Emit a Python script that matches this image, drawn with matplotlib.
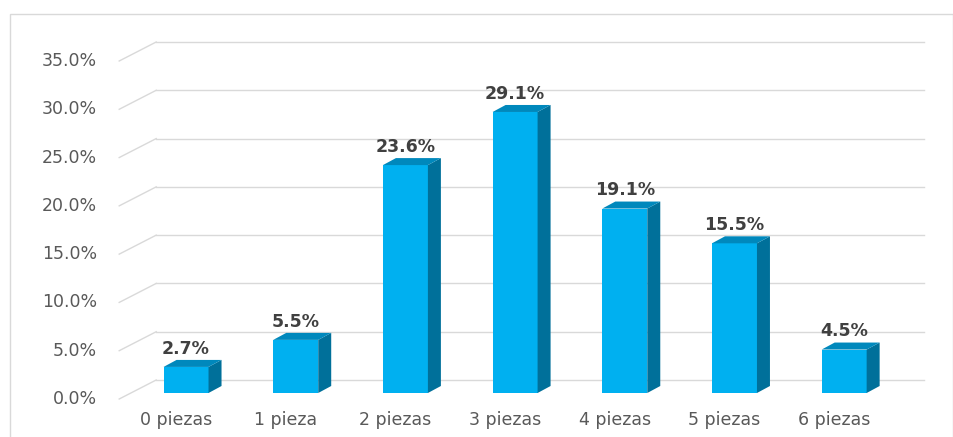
import matplotlib.pyplot as plt
import matplotlib.transforms as mtransforms
from matplotlib.patches import Polygon, Rectangle

categories = ["0 piezas", "1 pieza", "2 piezas", "3 piezas", "4 piezas", "5 piezas", "6 piezas"]
values = [2.7, 5.5, 23.6, 29.1, 19.1, 15.5, 4.5]
ticks = [0, 5, 10, 15, 20, 25, 30, 35]

FRONT = "#00B0F0"
SIDE = "#00709A"
TOP = "#0088BC"
GRID = "#D9D9D9"
TXT = "#595959"

fig = plt.figure(figsize=(9.54, 4.37), dpi=100)
ax = fig.add_axes([131.2 / 954, 44 / 437, 767.8 / 954, 338 / 437])
ax.set_xlim(-0.5, 6.5)
ax.set_ylim(0, 35)
ax.axis("off")

# planos del "3D": pared del fondo y plano frontal
back = mtransforms.offset_copy(ax.transData, fig=fig, x=25, y=13, units="dots")
front = mtransforms.offset_copy(ax.transData, fig=fig, x=-12, y=-6, units="dots")
tick_tr = mtransforms.offset_copy(ax.transData, fig=fig, x=-34, y=-6, units="dots")
cat_tr = mtransforms.offset_copy(ax.transData, fig=fig, x=-10, y=-27, units="dots")

for t in ticks:
    ax.plot([-0.5, 6.5], [t, t], color=GRID, lw=1, transform=back, clip_on=False, zorder=1)
    # diagonal del frente al fondo
    p0 = front.transform((-0.5, t))
    p1 = back.transform((-0.5, t))
    ax.plot([p0[0], p1[0]], [p0[1], p1[1]], color=GRID, lw=1, transform=None,
            clip_on=False, zorder=1)
    ax.text(-0.5, t, "{:.1f}%".format(t), transform=tick_tr, ha="right", va="center",
            fontsize=12.5, color=TXT)

w = 0.41
ddx = 13 / 109.7
ddy = 7 / 9.657
for i, v in enumerate(values):
    x0 = i - w / 2
    x1 = i + w / 2
    ax.bar(i, v, width=w, color=FRONT, zorder=3)
    side = Polygon([(x1, 0), (x1 + ddx, ddy), (x1 + ddx, v + ddy), (x1, v)],
                   closed=True, facecolor=SIDE, edgecolor="none", zorder=3, clip_on=False)
    top = Polygon([(x0, v), (x1, v), (x1 + ddx, v + ddy), (x0 + ddx, v + ddy)],
                  closed=True, facecolor=TOP, edgecolor="none", zorder=3, clip_on=False)
    ax.add_patch(side)
    ax.add_patch(top)
    ax.annotate("{:.1f}%".format(v), xy=(i, v + ddy), xytext=(0, 1.5),
                textcoords="offset points", ha="center", va="bottom",
                fontsize=12.5, fontweight="bold", color="#404040", zorder=4)
    ax.text(i, 0, categories[i], transform=cat_tr, ha="center", va="center",
            fontsize=12.5, color=TXT)

fig.patches.append(Rectangle((10 / 954, -0.01), 943 / 954, (437 - 14) / 437 + 0.01,
                             transform=fig.transFigure, fill=False, edgecolor=GRID, lw=1))

fig.savefig("out.png", dpi=100)
